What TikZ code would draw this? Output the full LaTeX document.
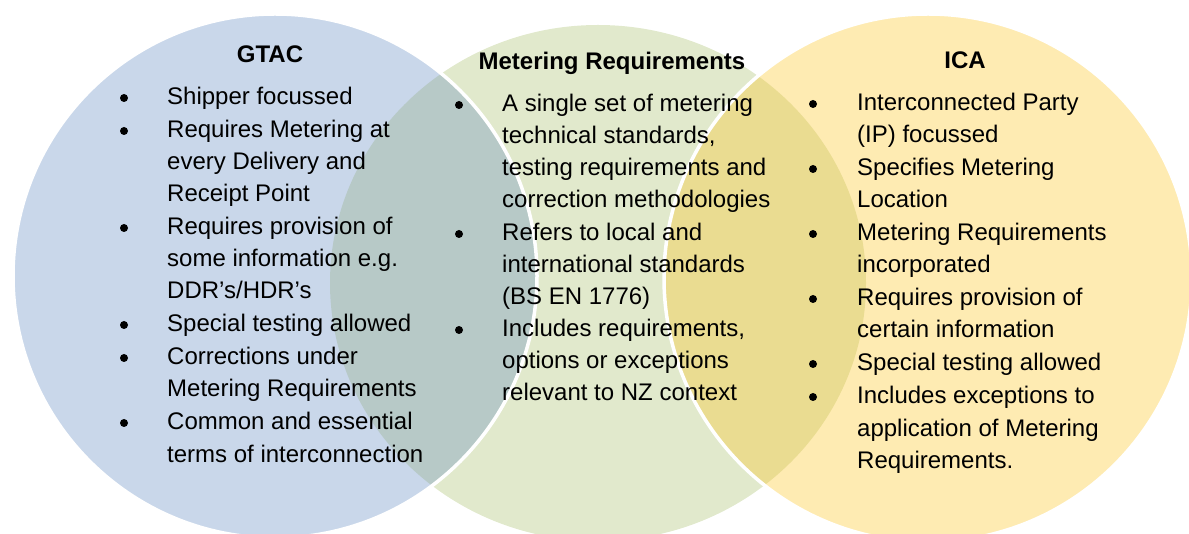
\documentclass[tikz,border=0pt]{standalone}
\usepackage{fontspec}
\setmainfont{Liberation Sans}
\definecolor{cblue}{RGB}{201,215,234}
\definecolor{cgreen}{RGB}{225,233,204}
\definecolor{cyellow}{RGB}{254,235,178}
\definecolor{cbg}{RGB}{183,201,199}
\definecolor{cyg}{RGB}{234,220,145}
\tikzset{
  txt/.style={anchor=base west, inner sep=0pt, font=\fontsize{24}{32}\selectfont},
  ttl/.style={anchor=base, inner sep=0pt, font=\fontsize{24}{32}\selectfont\bfseries},
  bul/.style={circle, fill=black, minimum size=8pt, inner sep=0pt},
  rim/.style={draw=white, line width=3.5pt}
}
\begin{document}
\begin{tikzpicture}[x=1pt,y=-1pt]
\useasboundingbox (0,0) rectangle (1189,534);
\coordinate (cb) at (275,276);
\coordinate (cg) at (598,283);
\coordinate (cy) at (928,278);
% fills
\fill[cgreen] (cg) ellipse [x radius=268pt, y radius=258pt];
\fill[cblue] (cb) circle [radius=262pt];
\fill[cyellow] (cy) circle [radius=264pt];
\begin{scope}
  \clip (cg) ellipse [x radius=268pt, y radius=258pt];
  \fill[cbg] (cb) circle [radius=262pt];
  \fill[cyg] (cy) circle [radius=264pt];
\end{scope}
\draw[rim] (cb) circle [radius=262pt];
\draw[rim] (cy) circle [radius=264pt];
% titles
\node[ttl] (tg) at (270,63) {GTAC};
\node[ttl] (tm) at (612,70) {Metering Requirements};
\node[ttl] (ti) at (965,69) {ICA};
% left list
\node[bul] (lb1) at (124,98) {};
\node[txt] (l1) at (167,105) {Shipper focussed};
\node[bul] (lb2) at (124,131) {};
\node[txt] (l2) at (167,138) {Requires Metering at};
\node[txt] (l3) at (167,170) {every Delivery and};
\node[txt] (l4) at (167,202) {Receipt Point};
\node[bul] (lb3) at (124,228) {};
\node[txt] (l5) at (167,235) {Requires provision of};
\node[txt] (l6) at (167,267) {some information e.g.};
\node[txt] (l7) at (167,299) {DDR’s/HDR’s};
\node[bul] (lb4) at (124,325) {};
\node[txt] (l8) at (167,332) {Special testing allowed};
\node[bul] (lb5) at (124,358) {};
\node[txt] (l9) at (167,365) {Corrections under};
\node[txt] (l10) at (167,397) {Metering Requirements};
\node[bul] (lb6) at (124,423) {};
\node[txt] (l11) at (167,430) {Common and essential};
\node[txt] (l12) at (167,462) {terms of interconnection};
% middle list
\node[bul] (mb1) at (459,105) {};
\node[txt] (m1) at (502,112) {A single set of metering};
\node[txt] (m2) at (502,144) {technical standards,};
\node[txt] (m3) at (502,176) {testing requirements and};
\node[txt] (m4) at (502,208) {correction methodologies};
\node[bul] (mb2) at (459,234) {};
\node[txt] (m5) at (502,241) {Refers to local and};
\node[txt] (m6) at (502,273) {international standards};
\node[txt] (m7) at (502,305) {(BS EN 1776)};
\node[bul] (mb3) at (459,330) {};
\node[txt] (m8) at (502,337) {Includes requirements,};
\node[txt] (m9) at (502,369) {options or exceptions};
\node[txt] (m10) at (502,401) {relevant to NZ context};
% right list
\node[bul] (rb1) at (813,104) {};
\node[txt] (r1) at (857,111) {Interconnected Party};
\node[txt] (r2) at (857,143) {(IP) focussed};
\node[bul] (rb2) at (813,169) {};
\node[txt] (r3) at (857,176) {Specifies Metering};
\node[txt] (r4) at (857,208) {Location};
\node[bul] (rb3) at (813,234) {};
\node[txt] (r5) at (857,241) {Metering Requirements};
\node[txt] (r6) at (857,273) {incorporated};
\node[bul] (rb4) at (813,299) {};
\node[txt] (r7) at (857,306) {Requires provision of};
\node[txt] (r8) at (857,338) {certain information};
\node[bul] (rb5) at (813,364) {};
\node[txt] (r9) at (857,371) {Special testing allowed};
\node[bul] (rb6) at (813,397) {};
\node[txt] (r10) at (857,404) {Includes exceptions to};
\node[txt] (r11) at (857,436) {application of Metering};
\node[txt] (r12) at (857,468) {Requirements.};
\end{tikzpicture}
\end{document}
